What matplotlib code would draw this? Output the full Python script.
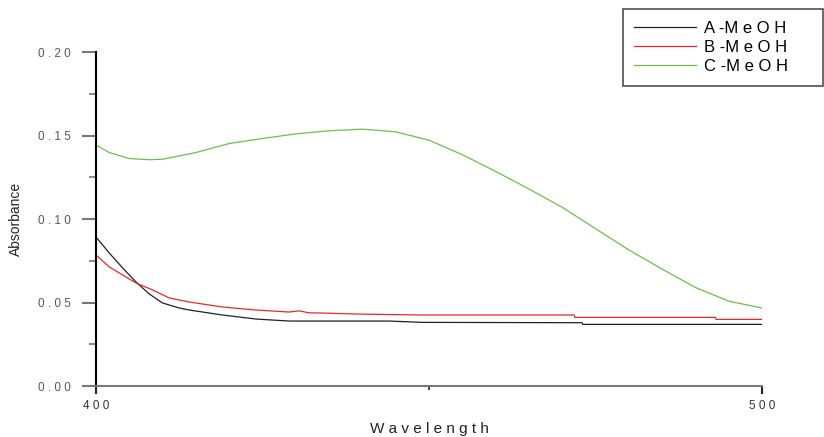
import numpy as np
import matplotlib
matplotlib.use('Agg')
import matplotlib.pyplot as plt
from matplotlib.ticker import FixedLocator, FixedFormatter

plt.rcParams['font.family'] = ['Liberation Sans', 'DejaVu Sans']

# wavelength (nm) and absorbance
wl_a = [400, 402, 404, 406, 408, 410, 412.5, 414, 419, 424, 429, 444, 449, 473, 473.1, 500]
abs_a = [0.0892, 0.0796, 0.0707, 0.0623, 0.0551, 0.0497, 0.0467, 0.0455, 0.0425, 0.0401,
         0.0389, 0.0389, 0.0381, 0.0379, 0.0369, 0.0369]

wl_b = [400, 402, 404, 406, 408.5, 411, 414, 419, 424, 429, 430.5, 432, 434, 439, 449,
        471.8, 471.9, 493, 493.1, 500]
abs_b = [0.0784, 0.0713, 0.0665, 0.0617, 0.0575, 0.0527, 0.0503, 0.0473, 0.0455, 0.0443,
         0.0450, 0.0438, 0.0437, 0.0431, 0.0425, 0.0425, 0.0411, 0.0411, 0.0399, 0.0399]

wl_c = [400, 402, 405, 408, 410, 415, 420, 425, 430, 435, 440, 445, 450, 455, 460,
        465, 470, 475, 480, 485, 490, 495, 500]
abs_c = [0.1443, 0.1398, 0.1362, 0.1355, 0.1358, 0.1398, 0.1452, 0.1482, 0.1510, 0.1528,
         0.1538, 0.1522, 0.1472, 0.1385, 0.1285, 0.1180, 0.1070, 0.0942, 0.0815, 0.0700,
         0.0590, 0.0508, 0.0467]

series = ['A -M e O H', 'B -M e O H', 'C -M e O H']
colors = ['#202020', '#e8282a', '#6cbf4e']

yticks = [0.0, 0.05, 0.10, 0.15, 0.20]
ytick_labels = ['0 . 0 0', '0 . 0 5', '0 . 1 0', '0 . 1 5', '0 . 2 0']
xticks = [400, 500]
xtick_labels = ['4 0 0', '5 0 0']

fig = plt.figure(figsize=(8.24, 4.37), dpi=100)
ax = fig.add_axes([0.1165, 0.1167, 0.8083, 0.7643])

for wl, ab, lab, c in zip([wl_a, wl_b, wl_c], [abs_a, abs_b, abs_c], series, colors):
    ax.plot(wl, ab, color=c, lw=0.9, label=lab)

ax.set_xlim(400, 500)
ax.set_ylim(0, 0.20)

for s in ['top', 'right']:
    ax.spines[s].set_visible(False)
ax.spines['left'].set_color('black')
ax.spines['left'].set_linewidth(1.5)
ax.spines['bottom'].set_color('#777777')
ax.spines['bottom'].set_linewidth(1.5)

ax.yaxis.set_major_locator(FixedLocator(yticks))
ax.yaxis.set_major_formatter(FixedFormatter(ytick_labels))
ax.yaxis.set_minor_locator(FixedLocator([0.025, 0.075, 0.125, 0.175]))
ax.xaxis.set_major_locator(FixedLocator(xticks))
ax.xaxis.set_major_formatter(FixedFormatter(xtick_labels))
ax.xaxis.set_minor_locator(FixedLocator([450]))

ax.tick_params(axis='y', which='major', length=10, width=1.5, color='#777777',
               labelsize=8.5, labelcolor='#555566', pad=8)
ax.tick_params(axis='y', which='minor', length=5, width=1.2, color='#777777')
ax.tick_params(axis='x', which='major', length=6, width=1.5, color='#222222',
               labelsize=8.5, labelcolor='#333333', pad=4)
ax.tick_params(axis='x', which='minor', length=3, width=1.2, color='#222222')

ax.set_xlabel('W a v e l e n g t h', fontsize=11, color='#222222')
ax.xaxis.set_label_coords(0.5, -0.109)
ax.set_ylabel('Absorbance', fontsize=10, color='#222222')
ax.yaxis.set_label_coords(-0.11, 0.5)

leg = ax.legend(loc='upper left', bbox_to_anchor=(0.791, 1.129, 0.3, 0.0), mode='expand',
                frameon=True, fancybox=False, fontsize=12, handlelength=3.7,
                labelspacing=0.26, borderpad=0.7, handletextpad=0.45, borderaxespad=0)
leg.get_frame().set_edgecolor('#222222')
leg.get_frame().set_linewidth(1.2)

fig.savefig('out.png', dpi=100)
